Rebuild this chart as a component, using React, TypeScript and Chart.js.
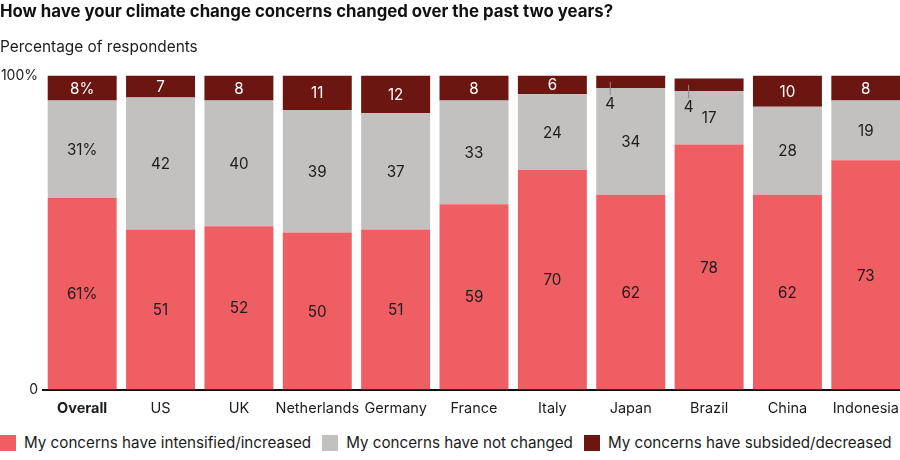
import React, { useEffect, useRef } from "react";
import { Chart, registerables } from "chart.js";

Chart.register(...registerables);

const categories = [
  "Overall",
  "US",
  "UK",
  "Netherlands",
  "Germany",
  "France",
  "Italy",
  "Japan",
  "Brazil",
  "China",
  "Indonesia",
];
const increased = [61, 51, 52, 50, 51, 59, 70, 62, 78, 62, 73];
const unchanged = [31, 42, 40, 39, 37, 33, 24, 34, 17, 28, 19];
const decreased = [8, 7, 8, 11, 12, 8, 6, 4, 4, 10, 8];

const seriesNames = [
  "My concerns have intensified/increased",
  "My concerns have not changed",
  "My concerns have subsided/decreased",
];
const yTicks = [0, 100];

const RED = "#EE5E63";
const GRAY = "#C3C1C0";
const DARK = "#6B1610";
const TEXT = "#1c1c1c";
const FONT = "Inter, 'Noto Sans', sans-serif";

// Writes each segment's value inside it; tiny segments get a leader line
// and the number is placed just below them.
const segmentLabels = {
  id: "segmentLabels",
  afterDatasetsDraw(chart: any) {
    const ctx = chart.ctx;
    ctx.save();
    ctx.font = `15.2px ${FONT}`;
    ctx.textAlign = "center";
    ctx.textBaseline = "middle";
    chart.data.datasets.forEach((ds: any, i: number) => {
      const meta = chart.getDatasetMeta(i);
      meta.data.forEach((bar: any, j: number) => {
        const v = ds.data[j];
        const { x, y, base, width } = bar.getProps(["x", "y", "base", "width"], true);
        const text = j === 0 ? `${v}%` : `${v}`;
        const mid = (y + base) / 2;
        if (v < 5) {
          const lx = x - width / 2 + 14;
          ctx.strokeStyle = "#8a8a8a";
          ctx.lineWidth = 1;
          ctx.beginPath();
          ctx.moveTo(lx, mid);
          ctx.lineTo(lx, base + 7);
          ctx.stroke();
          ctx.fillStyle = TEXT;
          ctx.fillText(text, lx, base + 16);
        } else {
          ctx.fillStyle = i === 2 ? "#ffffff" : TEXT;
          ctx.fillText(text, x, mid + 1);
        }
      });
    });
    ctx.restore();
  },
};

export default function App() {
  const canvasRef = useRef<HTMLCanvasElement | null>(null);

  useEffect(() => {
    if (!canvasRef.current) return;
    const chart = new Chart(canvasRef.current, {
      type: "bar",
      data: {
        labels: categories,
        datasets: [
          { label: seriesNames[0], data: increased, backgroundColor: RED },
          { label: seriesNames[1], data: unchanged, backgroundColor: GRAY },
          { label: seriesNames[2], data: decreased, backgroundColor: DARK },
        ],
      },
      options: {
        animation: false,
        responsive: true,
        maintainAspectRatio: false,
        layout: { padding: { top: 0, bottom: 6, left: 0, right: 0 } },
        datasets: {
          bar: { barPercentage: 0.88, categoryPercentage: 1 },
        },
        plugins: {
          legend: { display: false },
          tooltip: { enabled: false },
          title: {
            display: true,
            text: "How have your climate change concerns changed over the past two years?",
            align: "start",
            color: "#111",
            font: { family: FONT, size: 16.8, weight: "bold" },
            padding: { top: 2, bottom: 16 },
          },
          subtitle: {
            display: true,
            text: "Percentage of respondents",
            align: "start",
            color: TEXT,
            font: { family: FONT, size: 15.4 },
            padding: { top: 0, bottom: 18.8 },
          },
        },
        scales: {
          x: {
            stacked: true,
            grid: { display: false },
            border: { display: true, color: "#111", width: 2 },
            ticks: {
              color: TEXT,
              padding: 2,
              maxRotation: 0,
              autoSkip: false,
              font: (c: any) => ({
                family: FONT,
                size: 14.5,
                weight: c.index === 0 ? "bold" : "normal",
              }),
            },
          },
          y: {
            stacked: true,
            min: 0,
            max: 100,
            afterFit: (scale: any) => {
              scale.width = 43;
            },
            afterBuildTicks: (scale: any) => {
              scale.ticks = yTicks.map((v) => ({ value: v }));
            },
            grid: { display: false, drawTicks: false },
            border: { display: false },
            ticks: {
              color: TEXT,
              padding: 5,
              font: { family: FONT, size: 14 },
              callback: (v: any) => (v === 100 ? "100%" : "0"),
            },
          },
        },
      },
      plugins: [segmentLabels],
    });
    return () => chart.destroy();
  }, []);

  const legendItem = (color: string, label: string) => (
    <div key={label} style={{ display: "flex", alignItems: "center", marginRight: 11 }}>
      <span
        style={{
          display: "inline-block",
          width: 16,
          height: 16,
          background: color,
          marginRight: 8,
        }}
      />
      <span>{label}</span>
    </div>
  );

  return (
    <div
      style={{
        position: "absolute",
        left: 0,
        top: 0,
        width: 900,
        height: 460,
        overflow: "hidden",
        background: "#fff",
      }}
    >
      <div style={{ position: "relative", width: 905, height: 425 }}>
        <canvas ref={canvasRef} />
      </div>
      <div
        style={{
          position: "absolute",
          left: 0,
          top: 433,
          display: "flex",
          fontFamily: FONT,
          fontSize: 15.2,
          color: TEXT,
          whiteSpace: "nowrap",
          lineHeight: "20px",
        }}
      >
        {legendItem(RED, seriesNames[0])}
        {legendItem(GRAY, seriesNames[1])}
        {legendItem(DARK, seriesNames[2])}
      </div>
    </div>
  );
}
